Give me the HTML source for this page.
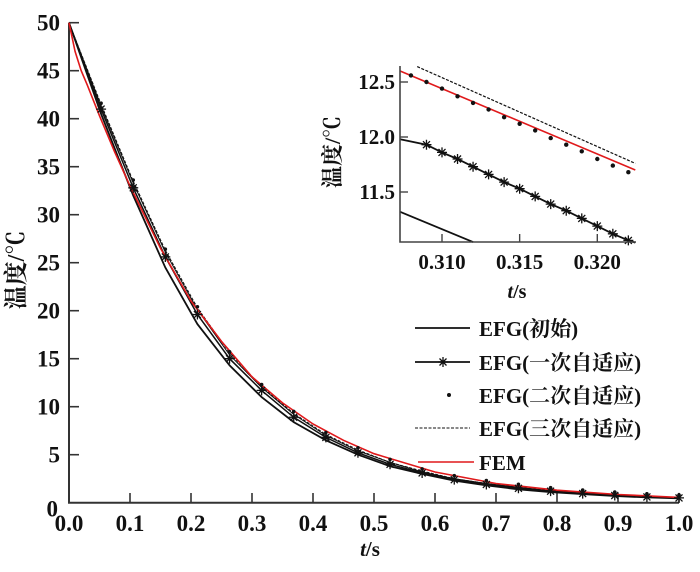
<!DOCTYPE html>
<html><head><meta charset="utf-8"><style>
body{margin:0;background:#fff;}
svg text{font-family:"Liberation Serif","Noto Serif CJK SC",serif;fill:#111;}
</style></head><body>
<svg width="700" height="567" viewBox="0 0 700 567" xmlns="http://www.w3.org/2000/svg">
<g id="main"></g>
<g id="inset"></g>
<g id="legend"></g>
</svg>
<script>
// main data
const starT = [0,0.0526,0.1053,0.1579,0.2105,0.2632,0.3158,0.3684,0.4211,0.4737,0.5263,0.5789,0.6316,0.6842,0.7368,0.7895,0.8421,0.8947,0.9474,1.0];
const initV = [50,40.5,32.0,24.5,18.6,14.3,11.0,8.4,6.5,5.0,3.8,3.0,2.3,1.8,1.4,1.1,0.9,0.7,0.55,0.45];
const oneV  = [50,41.0,32.8,25.6,19.6,15.0,11.7,8.9,6.8,5.2,4.0,3.1,2.4,1.9,1.5,1.2,0.95,0.75,0.6,0.5];
const twoV  = [50,41.3,33.3,26.1,20.1,15.4,12.0,9.2,7.0,5.4,4.2,3.2,2.5,2.0,1.6,1.25,1.0,0.8,0.62,0.5];
const threeV= [50,41.5,33.5,26.3,20.3,15.6,12.1,9.3,7.1,5.5,4.2,3.3,2.5,2.0,1.6,1.25,1.0,0.8,0.62,0.5];
const femT = [0,0.01,0.02,0.03,0.05,0.075,0.1,0.15,0.2,0.25,0.3,0.35,0.4,0.45,0.5,0.6,0.7,0.8,0.9,1.0];
const femV = [50,47.0,45.0,43.5,40.3,36.5,33.0,26.5,21.0,16.8,13.1,10.4,8.2,6.5,5.1,3.2,2.0,1.3,0.85,0.55];
const xTicks = ["0.0","0.1","0.2","0.3","0.4","0.5","0.6","0.7","0.8","0.9","1.0"];
const yTicks = ["0","5","10","15","20","25","30","35","40","45","50"];
// inset data
const inDotT = [0.308,0.309,0.310,0.311,0.312,0.313,0.314,0.315,0.316,0.317,0.318,0.319,0.320,0.321,0.322];
const inDotV = [12.56,12.50,12.44,12.37,12.31,12.25,12.18,12.12,12.06,11.99,11.93,11.87,11.80,11.74,11.68];
const inStarT = [0.3073,0.309,0.310,0.311,0.312,0.313,0.314,0.315,0.316,0.317,0.318,0.319,0.320,0.321,0.322,0.32245];
const inStarV = [11.98,11.93,11.86,11.80,11.73,11.66,11.59,11.53,11.46,11.39,11.33,11.26,11.19,11.12,11.06,11.04];
const inFemT = [0.3073,0.32245]; const inFemV=[12.60,11.70];
const inThreeT = [0.3084,0.32245]; const inThreeV=[12.64,11.76];
const inInitT = [0.3073,0.3120]; const inInitV=[11.32,11.045];
const inXTicks = ["0.310","0.315","0.320"]; const inXVals=[0.310,0.315,0.320];
const inYTicks = ["11.5","12.0","12.5"]; const inYVals=[11.5,12.0,12.5];

const NS="http://www.w3.org/2000/svg";
function mk(p,tag,at,txt){const e=document.createElementNS(NS,tag);for(const k in at)e.setAttribute(k,at[k]);if(txt!==undefined)e.textContent=txt;p.appendChild(e);return e;}
const X=t=>69+t*610, Y=v=>502.7-v*9.6;
const main=document.getElementById('main');
function path(g,xs,vs,fx,fy,st,name){const d=xs.map((t,i)=>(i?'L':'M')+fx(t).toFixed(1)+','+fy(vs[i]).toFixed(1)).join('');const p=mk(g,'path',Object.assign({d:d,fill:'none'},st));

return p;}
function star(g,x,y,r,name){const s=mk(g,'path',{d:`M${x-r},${y}H${x+r}M${x},${y-r}V${y+r}M${x-r*.7},${y-r*.7}L${x+r*.7},${y+r*.7}M${x-r*.7},${y+r*.7}L${x+r*.7},${y-r*.7}`,stroke:'#111','stroke-width':1.3});

}
// axes main
mk(main,'path',{d:`M69,22.7V502.7H679`,fill:'none',stroke:'#333','stroke-width':2});
xTicks.forEach((l,i)=>{const x=X(i/10);if(i>0)mk(main,'line',{x1:x,x2:x,y1:502.7,y2:493,stroke:'#333','stroke-width':1.6});
const t=mk(main,'text',{x:x,y:531,'text-anchor':'middle','font-size':23,'font-weight':'bold'},l);

});
yTicks.forEach((l,i)=>{const y=Y(i*5);if(i>0)mk(main,'line',{x1:69,x2:79,y1:y,y2:y,stroke:'#333','stroke-width':1.6});
const t=mk(main,'text',{x:i==0?58:60,y:y+(i==0?14:8),'text-anchor':'end','font-size':23,'font-weight':'bold'},l);

});
mk(main,'text',{x:370,y:556,'text-anchor':'middle','font-size':21,'font-weight':'bold',}).innerHTML='<tspan font-style="italic">t</tspan>/s';
mk(main,'text',{x:0,y:0,transform:'translate(24,270) rotate(-90)','text-anchor':'middle','font-size':24,'font-weight':'bold',},'温度/℃');
path(main,starT,initV,X,Y,{stroke:'#111','stroke-width':1.8},'series-efg-initial');
path(main,starT,oneV,X,Y,{stroke:'#111','stroke-width':1.5},'series-efg-first');
path(main,starT,twoV,X,Y,{stroke:'#111','stroke-width':1},'series-efg-second');
path(main,starT,threeV,X,Y,{stroke:'#111','stroke-width':1,'stroke-dasharray':'3,1.5'},'series-efg-third');
path(main,femT,femV,X,Y,{stroke:'#e0191b','stroke-width':1.6},'series-fem');
starT.forEach((t,i)=>{if(i>0){star(main,X(t),Y(oneV[i]),5,'star-marker');const c=mk(main,'circle',{cx:X(t),cy:Y(twoV[i])-3,r:1.8,fill:'#111'});

}});
// inset
const inset=document.getElementById('inset');
const IX=t=>442+(t-0.310)*15530, IY=v=>137-(v-12.0)*110;
mk(inset,'rect',{x:400,y:60,width:236,height:182,fill:'#fff'});
path(inset,inInitT,inInitV,IX,IY,{stroke:'#111','stroke-width':1.8},'inset-efg-initial');
path(inset,inStarT,inStarV,IX,IY,{stroke:'#111','stroke-width':1.8},'inset-efg-first');
inStarT.forEach((t,i)=>{if(i>0&&i<inStarT.length-1)star(inset,IX(t),IY(inStarV[i]),5,'inset-star-marker');});
path(inset,inThreeT,inThreeV,IX,IY,{stroke:'#111','stroke-width':1.2,'stroke-dasharray':'3,1.5'},'inset-efg-third');
path(inset,inFemT,inFemV,IX,IY,{stroke:'#e0191b','stroke-width':1.6},'inset-fem');
inDotT.forEach((t,i)=>{const c=mk(inset,'circle',{cx:IX(t),cy:IY(inDotV[i]),r:2.2,fill:'#111'});

});
mk(inset,'path',{d:'M400,66V242H636',fill:'none',stroke:'#444','stroke-width':1.6});
inXVals.forEach((v,i)=>{const x=IX(v);mk(inset,'line',{x1:x,x2:x,y1:242,y2:234,stroke:'#444','stroke-width':1.4});
const t=mk(inset,'text',{x:x,y:269,'text-anchor':'middle','font-size':21,'font-weight':'bold'},inXTicks[i]);

});
inYVals.forEach((v,i)=>{const y=IY(v);mk(inset,'line',{x1:400,x2:408,y1:y,y2:y,stroke:'#444','stroke-width':1.4});
const t=mk(inset,'text',{x:395,y:y+7,'text-anchor':'end','font-size':21,'font-weight':'bold'},inYTicks[i]);

});
mk(inset,'text',{x:517,y:298,'text-anchor':'middle','font-size':20,'font-weight':'bold',}).innerHTML='<tspan font-style="italic">t</tspan>/s';
mk(inset,'text',{x:0,y:0,transform:'translate(340,152) rotate(-90)','text-anchor':'middle','font-size':22,'font-weight':'bold',},'温度/℃');
// legend
const lg=document.getElementById('legend');
const labels=["EFG(初始)","EFG(一次自适应)","EFG(二次自适应)","EFG(三次自适应)","FEM"];
const ly=[328,362,395,428,462];
labels.forEach((l,i)=>{const y=ly[i];
if(i==0)mk(lg,'line',{x1:415,x2:470,y1:y,y2:y,stroke:'#111','stroke-width':1.8});
if(i==1){mk(lg,'line',{x1:415,x2:470,y1:y,y2:y,stroke:'#111','stroke-width':1.8});star(lg,443,y,5,'legend-star');}
if(i==2)mk(lg,'circle',{cx:449,cy:y,r:2,fill:'#111'});
if(i==3)mk(lg,'line',{x1:415,x2:470,y1:y,y2:y,stroke:'#111','stroke-width':1,'stroke-dasharray':'3,1.5'});
if(i==4)mk(lg,'line',{x1:418,x2:474,y1:y,y2:y,stroke:'#e0191b','stroke-width':1.6});
const t=mk(lg,'text',{x:479,y:y+8,'font-size':21,'font-weight':'bold'},l);

});
</script>
</body></html>
